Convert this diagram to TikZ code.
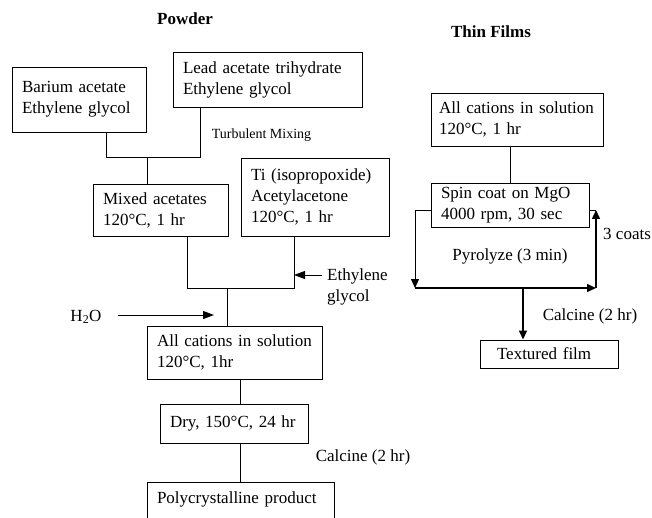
\documentclass[tikz,border=0pt]{standalone}
\usepackage{fontspec}
\setmainfont{Liberation Serif}
\usetikzlibrary{arrows.meta,calc}
\newcommand\fsz{\fontsize{17}{21}\selectfont\hyphenpenalty=10000 }
\begin{document}
\begin{tikzpicture}[x=1pt,y=-1pt,
  box/.style={draw, line width=0.9pt, rectangle, align=left, inner xsep=10pt, inner ysep=0pt, font=\fsz},
  lbl/.style={inner sep=0pt, font=\fsz},
  ttl/.style={inner sep=0pt, font=\fsz\bfseries},
  conn/.style={line width=0.9pt},
  arr/.style={line width=0.9pt, -{Triangle[length=11pt,width=8pt]}},
  tarr/.style={line width=1.5pt, -{Triangle[length=9pt,width=8pt]}}]
\clip (0,0) rectangle (652,518);
\fill[white] (0,0) rectangle (652,518);

% titles
\node[ttl] (tpow) at (185,19) {Powder};
\node[ttl] (tthin) at (491,32) {Thin Films};

% powder boxes
\node[box, text width=114pt, minimum width=134pt, minimum height=65pt] (bar) at (79,99.5) {Barium acetate\\Ethylene glycol};
\node[box, text width=169pt, minimum width=189pt, minimum height=55pt] (lead) at (267.5,79.5) {Lead acetate trihydrate\\Ethylene glycol};
\node[box, text width=115pt, minimum width=135pt, minimum height=52pt] (mix) at (160.5,210) {Mixed acetates\\120°C, 1 hr};
\node[box, text width=128pt, minimum width=148pt, minimum height=78pt] (ti) at (315,197) {Ti (isopropoxide)\\Acetylacetone\\120°C, 1 hr};
\node[box, text width=155pt, minimum width=175pt, minimum height=53pt] (all) at (234.5,352.5) {All cations in solution\\120°C, 1hr};
\node[box, text width=128pt, minimum width=148pt, minimum height=39pt] (dry) at (234,423.5) {Dry, 150°C, 24 hr};
\node[box, text width=167pt, minimum width=187pt, text height=21pt, text depth=21pt, anchor=north] (poly) at (240.5,482) {Polycrystalline product};

% powder labels
\node[lbl, font=\fontsize{14}{17}\selectfont] (turb) at (261.5,135) {Turbulent Mixing};
\node[lbl, align=left, anchor=west] (eg) at (327,287) {Ethylene\\glycol};
\node[lbl] (h2o) at (86,317) {H\textsubscript{2}O};
\node[lbl] (calp) at (363,457) {Calcine (2 hr)};

% powder connectors
\coordinate (m1) at (147,157);
\coordinate (m2) at (227,288);
\coordinate (e1) at (294,275);
\coordinate (e0) at (322,275);
\coordinate (w0) at (118,315);
\coordinate (w1) at (214,315);
\draw[conn] ([xshift=27pt]bar.south) |- ([xshift=-67.5pt]lead.south |- m1) -- ([xshift=-67.5pt]lead.south);
\draw[conn] (m1) -- (m1 |- mix.north);
\draw[conn] ([xshift=26.5pt]mix.south) |- ([xshift=-21pt]ti.south |- m2) -- ([xshift=-21pt]ti.south);
\draw[conn] (m2) -- (m2 |- all.north);
\draw[arr] (e0) -- (e1);
\draw[arr] (w0) -- (w1);
\draw[conn] ([xshift=5.5pt]all.south) -- ([xshift=5.5pt]all.south |- dry.north);
\draw[conn] ([xshift=6.5pt]dry.south) -- ([xshift=6.5pt]dry.south |- poly.north);

% thin film boxes
\node[box, inner xsep=8pt, text width=156pt, minimum width=172pt, minimum height=53pt] (tall) at (517,119.5) {All cations in solution\\120°C, 1 hr};
\node[box, text width=138pt, minimum width=158pt, minimum height=44pt] (spin) at (510,205) {Spin coat on MgO\\4000 rpm, 30 sec};
\node[box, inner xsep=17pt, text width=104pt, minimum width=138pt, minimum height=28pt] (tex) at (549,354) {Textured film};

% thin film labels
\node[lbl] (pyro) at (510,256) {Pyrolyze (3 min)};
\node[lbl, anchor=west] (coats) at (603,234) {3 coats};
\node[lbl] (calt) at (590,316) {Calcine (2 hr)};

% thin film connectors
\coordinate (L1) at (415,210);
\coordinate (L2) at (415,288);
\coordinate (R2) at (596,288);
\coordinate (R1) at (596,210);
\coordinate (C0) at (523,288);
\draw[conn] (spin.north) -- (spin.north |- tall.south);
\draw[conn] (spin.west |- L1) -- (L1);
\draw[line width=0.9pt, -{Triangle[length=9pt,width=8pt]}] (L1) -- (L2);
\draw[tarr] (L2) -- (R2);
\draw[tarr] (R2) -- (R1);
\draw[conn] (spin.east |- R1) -- (R1);
\draw[tarr] (C0) -- (C0 |- tex.north);
\end{tikzpicture}
\end{document}
